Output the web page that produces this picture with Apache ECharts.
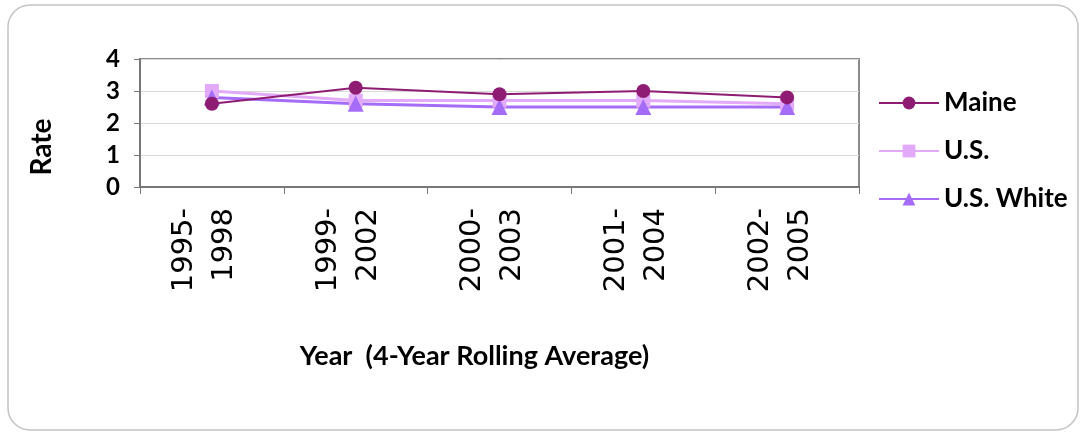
<!DOCTYPE html>
<html><head><meta charset="utf-8">
<script src="https://cdn.jsdelivr.net/npm/echarts@6/dist/echarts.min.js"></script>
<style>html,body{margin:0;padding:0;background:#fff}#c{width:1080px;height:434px}</style>
</head><body><div id="c"></div>
<script>
const categories = ['1995-\n1998','1999-\n2002','2000-\n2003','2001-\n2004','2002-\n2005'];
const maine = [2.6, 3.1, 2.9, 3.0, 2.8];
const us = [3.0, 2.7, 2.7, 2.7, 2.6];
const usWhite = [2.8, 2.6, 2.5, 2.5, 2.5];
const yTicks = [0,1,2,3,4];
const comic = 'Lato';
const chart = echarts.init(document.getElementById('c'));
chart.setOption({
  animation:false,
  backgroundColor:'#fff',
  graphic:[{type:'rect',shape:{x:8,y:5,width:1070,height:425,r:22},style:{fill:'none',stroke:'#c4c4c4',lineWidth:1.5},silent:true}],
  grid:{left:140,top:59,right:221,bottom:247,show:true,borderColor:'#8a8a8a',borderWidth:2},
  legend:{orient:'vertical',left:873,top:85,itemWidth:60,itemHeight:16,itemGap:22,
    textStyle:{fontFamily:comic,fontWeight:'bold',fontSize:26,color:'#000'},
    data:['Maine','U.S.','U.S. White']},
  xAxis:{type:'category',data:categories,boundaryGap:true,
    name:'Year  (4-Year Rolling Average)',nameLocation:'middle',nameGap:156,
    nameTextStyle:{fontFamily:comic,fontWeight:'bold',fontSize:27,color:'#000',padding:[0,50,0,0]},
    axisLine:{lineStyle:{color:'#777',width:2}},
    axisTick:{show:true,length:7,lineStyle:{color:'#777'}},
    axisLabel:{rotate:90,margin:21,color:'#000',
      formatter:v=>v.split('\n').map(s=>'{t|'+s+'}').join('\n')+'\n{s| }',
      rich:{t:{fontFamily:'DejaVu Sans',fontSize:29,lineHeight:40,color:'#000'},
            s:{fontSize:10,lineHeight:14}}}},
  yAxis:{type:'value',min:0,max:4,interval:1,
    name:'Rate',nameLocation:'middle',nameGap:84,nameRotate:90,
    nameTextStyle:{fontFamily:comic,fontWeight:'bold',fontSize:28,color:'#000',padding:[0,48,0,0]},
    axisLine:{show:true,lineStyle:{color:'#777',width:2}},
    axisTick:{show:true,length:6,lineStyle:{color:'#777'}},
    splitLine:{lineStyle:{color:'#d9d9d9'}},
    axisLabel:{fontFamily:comic,fontWeight:'bold',fontSize:24,color:'#000',margin:20,
      formatter:v=>yTicks.includes(v)?String(v):''}},
  series:[
    {name:'Maine',type:'line',data:maine,symbol:'circle',symbolSize:14,z:4,
      itemStyle:{color:'#8e1c73'},lineStyle:{color:'#8e1c73',width:2}},
    {name:'U.S.',type:'line',data:us,symbol:'rect',symbolSize:14,z:3,
      itemStyle:{color:'#e2aaf8'},lineStyle:{color:'#e2aaf8',width:3}},
    {name:'U.S. White',type:'line',data:usWhite,symbol:'triangle',symbolSize:16,z:3,
      itemStyle:{color:'#a56cf8'},lineStyle:{color:'#a56cf8',width:3}}
  ]
});
</script></body></html>
